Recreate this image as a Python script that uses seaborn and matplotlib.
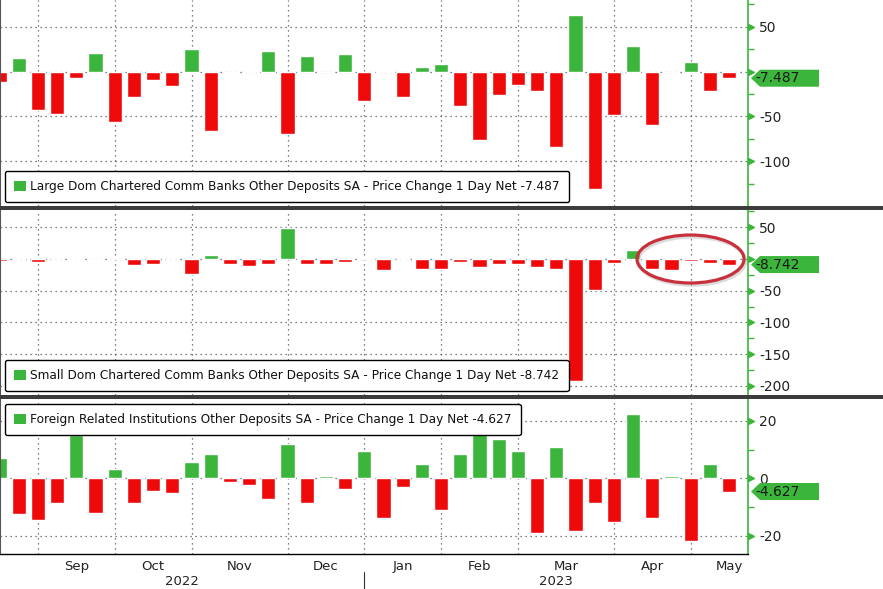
import numpy as np
import pandas as pd
import seaborn as sns
import matplotlib
matplotlib.use("Agg")
import matplotlib.pyplot as plt
import matplotlib.transforms as mtransforms
from matplotlib.patches import Patch, Polygon, Rectangle, Ellipse

sns.set_style("white")
plt.rcParams["font.family"] = ["DejaVu Sans"]
plt.rcParams["axes.unicode_minus"] = False

# weekly observations (week ending Wednesday)
weeks = pd.date_range("2022-08-24", periods=39, freq="7D")

large_banks = [-12, 15, -43, -47, -7.5, 21, -56, -28, -10, -16.5, 25.5, -66, -2, 1,
               22.5, -70, 17, -1, 19, -33, 1, -29, 4.5, 8, -38, -77, -26.5, -15, -22,
               -84, 63, -131, -49, 29, -60, -1, 11, -22, -7.487]
small_banks = [-2.5, 0.3, -5, 0.3, -1, -2, 0.3, -9, -8, 0.3, -24, 6, -8, -11.5, -8,
               49, -8, -8, -5, 1, -18, 0.3, -16, -16, -4.5, -13, -8, -8, -13, -16,
               -192, -49, -7, 14, -16, -17, -3, -7, -8.742]
foreign_inst = [7.2, -12.3, -14.5, -8.5, 15, -12, 3.3, -8.8, -4.3, -5, 5.7, 8.5, -1.2,
                -2.3, -7.4, 12, -8.8, 0.8, -3.6, 9.5, -13.7, -2.9, 5, -10.9, 8.5, 15.5,
                13.8, 9.5, -19, 10.9, -18.3, -8.8, -15.1, 22.4, -14, 0.8, -21.7, 5, -4.627]

series_names = [
    "Large Dom Chartered Comm Banks Other Deposits SA - Price Change 1 Day Net",
    "Small Dom Chartered Comm Banks Other Deposits SA - Price Change 1 Day Net",
    "Foreign Related Institutions Other Deposits SA - Price Change 1 Day Net",
]
last_labels = ["-7.487", "-8.742", "-4.627"]

GREEN = "#3bb53b"
RED = "#ee0a0a"
GRID = "#555555"
W, H = 883, 589

fig = plt.figure(figsize=(W / 100, H / 100), dpi=100)
fig.patch.set_facecolor("white")
ident = mtransforms.IdentityTransform()

# panel pixel bounds (top, bottom)
bounds = [(0, 206), (210, 395), (399, 554)]
axes = [fig.add_axes([0, 1 - b / H, 748 / W, (b - t) / H]) for t, b in bounds]

ylims = [(-150.1, 79.8), (-214.2, 77.2), (-26.4, 27.6)]
majors = [[50, 0, -50, -100], [50, 0, -50, -100, -150, -200], [20, 0, -20]]
minors = [np.arange(-125, 80, 25), np.arange(-200, 80, 25), np.arange(-20, 25, 10)]

# month boundaries from the weekly dates
idx = np.arange(len(weeks))
month_starts = [i for i in idx[1:] if weeks[i].month != weeks[i - 1].month]
month_names = [weeks[i].strftime("%b") for i in month_starts]
edges = month_starts + [month_starts[-1] + 4]
month_mid = [(edges[k] + edges[k + 1]) / 2 for k in range(len(month_starts))]
xlim = (0.5 / 19.2, 748.5 / 19.2)

all_vals = [large_banks, small_banks, foreign_inst]
for k, (ax, vals) in enumerate(zip(axes, all_vals)):
    df = pd.DataFrame({"week": idx, "value": vals,
                       "sign": ["pos" if v >= 0 else "neg" for v in vals]})
    sns.barplot(data=df, x="week", y="value", hue="sign",
                palette={"pos": GREEN, "neg": RED}, dodge=False, width=0.73,
                saturation=1, errorbar=None, legend=False, ax=ax, zorder=2)
    ax.set_xlim(*xlim)
    ax.set_ylim(*ylims[k])
    ax.set_xlabel("")
    ax.set_ylabel("")
    ax.set_axisbelow(True)

    # x: gridlines at month starts, labels at month middles
    ax.set_xticks(month_starts)
    ax.set_xticks(month_mid, minor=True)
    ax.xaxis.grid(True, which="major", ls=(0, (1, 3)), color=GRID, lw=0.9)
    ax.set_xticklabels([])
    if k == 2:
        ax.set_xticklabels(month_names, minor=True)
        ax.tick_params(axis="x", which="major", length=4, color="black", width=1)
        ax.tick_params(axis="x", which="minor", length=0, pad=4,
                       labelsize=9.5, labelcolor="#222222")
    else:
        ax.set_xticklabels([], minor=True)
        ax.tick_params(axis="x", which="both", length=0)

    # y on the right; the zero label sits under the last-value tag
    ax.yaxis.tick_right()
    ax.set_yticks(majors[k])
    ax.set_yticklabels(["" if (v == 0 and k < 2) else str(v) for v in majors[k]])
    ax.set_yticks(minors[k], minor=True)
    ax.yaxis.grid(True, which="major", ls=(0, (1, 3)), color=GRID, lw=0.9)
    ax.tick_params(axis="y", which="major", length=0, pad=8, labelsize=10,
                   labelcolor="#222222")
    ax.tick_params(axis="y", which="minor", length=4, color=GREEN, width=1)
    tri = mtransforms.blended_transform_factory(ax.transAxes, ax.transData)
    ax.plot([1 + 3 / 748] * len(majors[k]), majors[k], ls="none", marker=">",
            ms=5, color=GREEN, transform=tri, clip_on=False, zorder=5)

    for side in ["top", "bottom"]:
        ax.spines[side].set_visible(False)
    ax.spines["right"].set_color(GREEN)
    ax.spines["right"].set_linewidth(1.2)
    ax.spines["left"].set_color("#555555")
    if k == 2:
        ax.spines["bottom"].set_visible(True)
        ax.spines["bottom"].set_color("black")
        ax.spines["bottom"].set_linewidth(1)

    # legend box
    height_px = bounds[k][1] - bounds[k][0]
    if k < 2:
        loc, anchor = "lower left", (5 / 748, 4 / height_px)
    else:
        loc, anchor = "upper left", (5 / 748, 1 - 5 / height_px)
    leg = ax.legend(handles=[Patch(fc=GREEN, ec="none")],
                    labels=[f"{series_names[k]} {last_labels[k]}"],
                    loc=loc, bbox_to_anchor=anchor, borderaxespad=0,
                    fancybox=True, framealpha=1, edgecolor="black",
                    handlelength=0.95, handleheight=0.95, handletextpad=0.4,
                    borderpad=0.75, fontsize=8.7)
    leg.get_frame().set_linewidth(1.0)
    for t in leg.get_texts():
        t.set_color("#111111")
    leg.set_zorder(6)

    # last-value tag on the right axis
    yc = ax.transData.transform((0, vals[-1]))[1]
    pts = [(751, yc), (760, yc + 8.5), (819, yc + 8.5), (819, yc - 8.5), (760, yc - 8.5)]
    fig.add_artist(Polygon(pts, closed=True, transform=ident,
                           fc=GREEN, ec="none", zorder=5))
    fig.text(755, yc, last_labels[k], transform=ident,
             va="center", ha="left", fontsize=10, color="#1a1a1a", zorder=6)

# year labels below the month labels
ax3 = axes[2]
jan = month_starts[month_names.index("Jan")]
yr_tf = mtransforms.blended_transform_factory(ax3.transData, ax3.transAxes)
ax3.text((xlim[0] + jan) / 2, -0.175, "2022", transform=yr_tf, ha="center",
         va="center", fontsize=9.5, color="#222222")
ax3.text((jan + xlim[1]) / 2, -0.175, "2023", transform=yr_tf, ha="center",
         va="center", fontsize=9.5, color="#222222")
ax3.plot([jan, jan], [-0.115, -0.23], transform=yr_tf, color="#333333", lw=0.8,
         clip_on=False)

# dark separators between panels
for top in (206, 395):
    fig.add_artist(Rectangle((0, H - top - 4), W, 4, transform=ident,
                             fc="#3c3c3c", ec="none", zorder=4))

# highlight ellipse on the small-bank panel
fig.add_artist(Ellipse((692, H - 261), 107, 48, transform=ident, fill=False,
                       ec="#999999", lw=2.5, alpha=0.35, zorder=6))
fig.add_artist(Ellipse((690.5, H - 259), 107, 48, transform=ident, fill=False,
                       ec="#c8313c", lw=2.3, zorder=7))

fig.savefig("out.png", dpi=100, facecolor="white")
